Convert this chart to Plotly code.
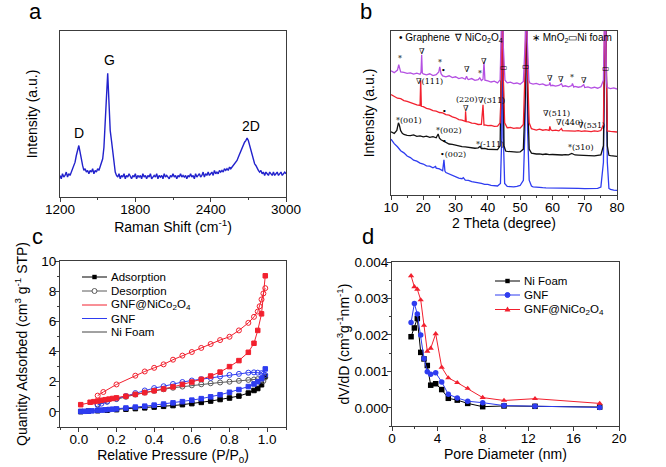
import plotly.graph_objects as go

W, H = 666, 467

# ---------------- panel a : Raman spectrum ----------------
raman_shift = list(range(1200, 3001, 10))
raman_int = [
    0.13, 0.11, 0.14, 0.12, 0.13, 0.15, 0.12, 0.14, 0.13, 0.15,
    0.16, 0.18, 0.21, 0.25, 0.29, 0.31, 0.27, 0.22, 0.19, 0.16,
    0.17, 0.15, 0.16, 0.14, 0.16, 0.15, 0.17, 0.14, 0.16, 0.15,
    0.17, 0.16, 0.18, 0.20, 0.23, 0.30, 0.42, 0.60, 0.745, 0.56,
    0.40, 0.34, 0.27, 0.19, 0.15, 0.13, 0.12, 0.14, 0.11, 0.13,
    0.12, 0.14, 0.11, 0.13, 0.12, 0.14, 0.12, 0.11, 0.13, 0.12,
    0.14, 0.11, 0.13, 0.12, 0.13, 0.11, 0.14, 0.12, 0.13, 0.11,
    0.13, 0.12, 0.14, 0.11, 0.12, 0.13, 0.12, 0.14, 0.11, 0.13,
    0.12, 0.13, 0.11, 0.14, 0.12, 0.13, 0.12, 0.11, 0.13, 0.12,
    0.14, 0.12, 0.13, 0.11, 0.13, 0.12, 0.14, 0.12, 0.13, 0.12,
    0.13, 0.11, 0.13, 0.12, 0.14, 0.12, 0.13, 0.11, 0.14, 0.12,
    0.13, 0.14, 0.12, 0.13, 0.15, 0.12, 0.14, 0.13, 0.15, 0.13,
    0.14, 0.15, 0.13, 0.16, 0.14, 0.15, 0.14, 0.16, 0.15, 0.16,
    0.15, 0.17, 0.16, 0.17, 0.16, 0.18, 0.17, 0.18, 0.19, 0.20,
    0.21, 0.22, 0.24, 0.26, 0.27, 0.29, 0.31, 0.33, 0.34, 0.355,
    0.34, 0.31, 0.28, 0.25, 0.22, 0.20, 0.19, 0.17, 0.16, 0.15,
    0.16, 0.14, 0.15, 0.13, 0.15, 0.14, 0.13, 0.15, 0.14, 0.13,
    0.15, 0.13, 0.14, 0.15, 0.13, 0.14, 0.15, 0.13, 0.14, 0.15,
    0.14,
]
raman_labels = ["D", "G", "2D"]
raman_label_x = [1355, 1598, 2725]
raman_label_y = [0.385, 0.825, 0.425]

# ---------------- panel b : XRD patterns ----------------
xrd_violet_x = [10, 11, 12, 12.4, 12.8, 13, 14, 15, 16, 17,
                18, 19, 19.3, 19.5, 19.7, 20, 21, 22, 23, 24,
                24.8, 25.1, 25.5, 26, 27, 28, 29, 30, 31, 32,
                33, 33.4, 33.7, 34, 35, 36, 37, 37.5, 38, 38.5,
                38.8, 39.1, 40, 41, 42, 43, 43.8, 44.3, 44.5, 44.8,
                45.3, 46, 47, 48, 49, 50, 51, 51.6, 51.9, 52.2,
                52.7, 53, 54, 55, 56, 57, 58, 59, 59.2, 59.5,
                60, 61, 62, 62.8, 63.2, 64, 65, 66, 66.2, 66.6,
                67, 68, 69, 69.7, 70, 71, 72, 73, 74, 75,
                75.8, 76.3, 76.7, 77, 78, 79, 80]
xrd_violet_y = [0.758, 0.746, 0.762, 0.795, 0.765, 0.750, 0.748, 0.742, 0.745, 0.737,
                0.743, 0.736, 0.748, 0.855, 0.744, 0.738, 0.733, 0.739, 0.728, 0.734,
                0.750, 0.782, 0.740, 0.726, 0.720, 0.727, 0.716, 0.721, 0.710, 0.716,
                0.706, 0.724, 0.708, 0.704, 0.710, 0.699, 0.703, 0.714, 0.698, 0.706,
                0.808, 0.700, 0.696, 0.689, 0.694, 0.684, 0.702, 0.900, 1.300, 0.900,
                0.700, 0.684, 0.688, 0.679, 0.683, 0.676, 0.692, 0.950, 1.300, 0.950,
                0.700, 0.683, 0.676, 0.680, 0.673, 0.677, 0.668, 0.672, 0.686, 0.666,
                0.669, 0.664, 0.668, 0.679, 0.662, 0.666, 0.660, 0.667, 0.680, 0.658,
                0.662, 0.657, 0.661, 0.673, 0.655, 0.659, 0.652, 0.657, 0.651, 0.660,
                0.700, 1.300, 0.700, 0.655, 0.649, 0.653, 0.646]

xrd_red_x = [10, 11, 12, 13, 14, 15, 16, 17, 18, 19,
             19.2, 19.4, 20, 21, 22, 23, 24, 25, 26, 27,
             28, 29, 30, 31, 32, 33, 33.1, 33.3, 34, 35,
             36, 37, 38, 38.5, 38.8, 39, 40, 41, 42, 43,
             43.8, 44.2, 44.5, 44.8, 45.2, 46, 47, 48, 49, 50,
             51, 51.5, 51.9, 52.3, 52.8, 53.5, 54, 55, 56, 57,
             58, 59, 59.2, 59.5, 60, 61, 62, 62.8, 63.1, 64,
             65, 66, 67, 68, 69, 70, 71, 72, 73, 74,
             75, 75.8, 76.3, 76.8, 77, 78, 79, 80]
xrd_red_y = [0.612, 0.603, 0.590, 0.587, 0.576, 0.571, 0.563, 0.559, 0.550, 0.546,
             0.700, 0.541, 0.539, 0.528, 0.524, 0.514, 0.511, 0.503, 0.501, 0.490,
             0.487, 0.476, 0.471, 0.460, 0.457, 0.449, 0.510, 0.447, 0.446, 0.438,
             0.437, 0.430, 0.431, 0.550, 0.427, 0.428, 0.423, 0.424, 0.418, 0.420,
             0.440, 0.700, 1.300, 0.700, 0.440, 0.410, 0.412, 0.406, 0.409, 0.408,
             0.430, 0.750, 1.300, 0.750, 0.440, 0.404, 0.401, 0.396, 0.401, 0.395,
             0.399, 0.394, 0.418, 0.397, 0.393, 0.396, 0.391, 0.405, 0.393, 0.392,
             0.390, 0.393, 0.389, 0.392, 0.388, 0.391, 0.390, 0.387, 0.391, 0.388,
             0.393, 0.430, 1.300, 0.430, 0.391, 0.388, 0.387, 0.384]

xrd_black_x = [10, 11, 11.8, 12.3, 12.6, 13, 13.5, 14, 15, 16,
               17, 18, 19, 20, 21, 22, 23, 24, 24.6, 25,
               25.5, 26, 26.5, 27, 28, 29, 30, 31, 32, 33,
               34, 35, 36, 37, 37.6, 38, 39, 40, 41, 42,
               43, 43.8, 44.5, 45, 45.5, 46, 47, 48, 49, 50,
               51, 51.6, 52, 52.3, 52.8, 53.5, 54, 55, 56, 57,
               58, 59, 60, 61, 62, 63, 64, 65, 66, 66.5,
               67, 68, 69, 70, 71, 72, 73, 74, 75, 75.8,
               76.4, 77, 77.5, 78, 79, 80]
xrd_black_y = [0.385, 0.376, 0.394, 0.440, 0.425, 0.392, 0.376, 0.369, 0.364, 0.362,
               0.366, 0.358, 0.360, 0.354, 0.359, 0.352, 0.356, 0.349, 0.372, 0.346,
               0.337, 0.332, 0.324, 0.319, 0.311, 0.309, 0.303, 0.301, 0.295, 0.293,
               0.289, 0.289, 0.285, 0.288, 0.296, 0.283, 0.284, 0.279, 0.279, 0.275,
               0.277, 0.300, 1.300, 0.300, 0.268, 0.266, 0.263, 0.264, 0.261, 0.263,
               0.280, 0.600, 1.300, 0.600, 0.280, 0.255, 0.252, 0.250, 0.251, 0.247,
               0.250, 0.246, 0.247, 0.245, 0.247, 0.244, 0.246, 0.245, 0.253, 0.250,
               0.244, 0.243, 0.242, 0.244, 0.240, 0.243, 0.239, 0.242, 0.245, 0.300,
               1.300, 0.300, 0.242, 0.240, 0.238, 0.236]

xrd_blue_x = [10, 11, 12, 13, 14, 15, 16, 17, 18, 19,
              20, 21, 22, 23, 23.8, 24, 25, 26, 26.4, 26.7,
              27, 28, 29, 30, 31, 32, 32.4, 33, 34, 35,
              36, 37, 38, 39, 40, 41, 42, 43, 43.9, 44.3,
              44.5, 44.8, 45.2, 46, 47, 48, 49, 50, 51, 51.5,
              51.9, 52.3, 52.8, 53.5, 54, 55, 56, 57, 58, 59,
              60, 62, 64, 66, 68, 70, 72, 74, 75, 75.8,
              76.4, 77, 77.5, 78, 79, 80]
xrd_blue_y = [0.340, 0.313, 0.294, 0.270, 0.257, 0.238, 0.228, 0.212, 0.206, 0.194,
              0.189, 0.178, 0.176, 0.166, 0.174, 0.164, 0.159, 0.148, 0.215, 0.146,
              0.137, 0.129, 0.117, 0.111, 0.103, 0.099, 0.106, 0.091, 0.089, 0.081,
              0.079, 0.073, 0.071, 0.065, 0.065, 0.059, 0.059, 0.055, 0.070, 0.350,
              1.300, 0.350, 0.070, 0.052, 0.051, 0.049, 0.053, 0.058, 0.090, 0.400,
              1.300, 0.400, 0.090, 0.055, 0.050, 0.047, 0.046, 0.045, 0.044, 0.044,
              0.043, 0.042, 0.041, 0.040, 0.040, 0.039, 0.038, 0.040, 0.048, 0.200,
              1.300, 0.200, 0.040, 0.034, 0.030, 0.028]

# peak markers / labels in panel b: (text, 2theta, height)
xrd_marks = [
    ("*", 12.8, 0.833), ("∇", 19.5, 0.872), ("*", 25.1, 0.809), ("•", 26.4, 0.762),
    ("∇", 33.4, 0.766), ("*", 37.5, 0.738), ("∇", 38.8, 0.817), ("▭", 44.9, 0.776),
    ("▭", 51.9, 0.782), ("∇", 59.1, 0.711), ("∇", 62.7, 0.707), ("*", 66.0, 0.715),
    ("∇", 69.7, 0.701), ("▭", 76.6, 0.772),
    ("∇(111)", 21.9, 0.695), ("•", 26.5, 0.508), ("(220)", 33.4, 0.583), ("∇", 33.2, 0.528),
    ("∇(311)", 41.0, 0.579), ("∇(511)", 61.3, 0.494), ("∇(440)", 65.4, 0.445),
    ("∇(531)", 72.1, 0.421),
    ("*(001)", 15.6, 0.457), ("*(002)", 28.1, 0.392), ("•", 26.5, 0.325),
    ("*(-111)", 40.6, 0.311), ("*(310)", 68.8, 0.291),
    ("•(002)", 29.2, 0.248),
]
xrd_key = [("• Graphene", 12.0), ("∇ NiCo<sub>2</sub>O<sub>4</sub>", 28.9),
           ("∗ MnO<sub>2</sub>▭Ni foam", 52.9)]

# ---------------- panel c : N2 isotherms ----------------
p_red_ads = [0.01, 0.06, 0.08, 0.10, 0.12, 0.14, 0.16, 0.18, 0.20, 0.25, 0.30, 0.35, 0.40,
             0.45, 0.50, 0.55, 0.60, 0.65, 0.70, 0.75, 0.80, 0.85, 0.90, 0.93, 0.95, 0.97, 0.99]
q_red_ads = [0.48, 0.64, 0.68, 0.72, 0.77, 0.81, 0.85, 0.89, 0.93, 1.04, 1.16, 1.28, 1.40,
             1.52, 1.66, 1.82, 1.98, 2.16, 2.38, 2.64, 3.00, 3.40, 3.95, 4.55, 5.40, 6.50, 9.02]
p_red_des = [0.10, 0.13, 0.20, 0.30, 0.35, 0.40, 0.45, 0.50, 0.55, 0.60, 0.65, 0.70, 0.75,
             0.80, 0.85, 0.90, 0.93, 0.95, 0.96, 0.97, 0.98, 0.99]
q_red_des = [1.08, 1.32, 1.82, 2.40, 2.68, 2.92, 3.15, 3.46, 3.73, 3.97, 4.24, 4.50, 4.76,
             4.98, 5.40, 5.90, 6.30, 6.65, 7.00, 7.45, 7.85, 8.20]
p_blue_ads = [0.01, 0.03, 0.05, 0.07, 0.10, 0.12, 0.14, 0.16, 0.18, 0.20, 0.25, 0.30, 0.35,
              0.40, 0.45, 0.50, 0.55, 0.60, 0.65, 0.70, 0.75, 0.80, 0.85, 0.90, 0.93, 0.95,
              0.97, 0.99]
q_blue_ads = [0.03, 0.04, 0.05, 0.07, 0.10, 0.12, 0.14, 0.16, 0.18, 0.20, 0.26, 0.32, 0.38,
              0.45, 0.52, 0.60, 0.68, 0.78, 0.88, 1.00, 1.14, 1.30, 1.48, 1.68, 1.85, 2.00,
              2.20, 2.85]
p_blue_des = [0.10, 0.12, 0.15, 0.20, 0.25, 0.30, 0.35, 0.40, 0.45, 0.50, 0.55, 0.60, 0.65,
              0.70, 0.75, 0.80, 0.85, 0.90, 0.93, 0.95, 0.97, 0.98, 0.99]
q_blue_des = [0.45, 0.55, 0.68, 0.88, 1.05, 1.25, 1.42, 1.58, 1.70, 1.85, 1.98, 2.08, 2.17,
              2.25, 2.35, 2.45, 2.52, 2.60, 2.62, 2.60, 2.57, 2.52, 2.45]
p_ni_ads = [0.01, 0.05, 0.10, 0.15, 0.20, 0.25, 0.30, 0.35, 0.40, 0.45, 0.50, 0.55, 0.60,
            0.65, 0.70, 0.75, 0.80, 0.85, 0.90, 0.93, 0.95, 0.97, 0.99]
q_ni_ads = [0.02, 0.05, 0.08, 0.11, 0.15, 0.18, 0.22, 0.27, 0.32, 0.37, 0.42, 0.48, 0.55,
            0.63, 0.72, 0.82, 0.92, 1.05, 1.25, 1.42, 1.55, 1.80, 2.35]
p_ni_des = [0.10, 0.15, 0.20, 0.25, 0.30, 0.35, 0.40, 0.45, 0.50, 0.55, 0.60, 0.65, 0.70,
            0.75, 0.80, 0.85, 0.90, 0.93, 0.95, 0.97, 0.98, 0.99]
q_ni_des = [0.50, 0.68, 0.85, 1.00, 1.15, 1.28, 1.40, 1.50, 1.60, 1.68, 1.76, 1.83, 1.90,
            1.95, 2.00, 2.06, 2.12, 2.15, 2.17, 2.10, 2.05, 2.30]

# ---------------- panel d : pore size distribution ----------------
pore_d = [1.68, 1.97, 2.23, 2.53, 2.82, 3.11, 3.41, 3.85, 4.38, 4.96, 5.75, 6.67, 7.99,
          9.87, 12.6, 18.3]
dvdd_ni = [0.00195, 0.00219, 0.00245, 0.00152, 0.00134, 0.00116, 0.00062, 0.00066,
           0.00050, 0.00026, 0.00021, 0.00012, 0.00003, 0.00005, 0.00004, 0.00002]
dvdd_gnf = [0.00234, 0.00286, 0.00257, 0.00200, 0.00135, 0.00099, 0.00092, 0.00096,
            0.00071, 0.00037, 0.00027, 0.00018, 0.00014, 0.00006, 0.00004, 0.00001]
dvdd_gnf_nco = [0.00362, 0.00332, 0.00325, 0.00296, 0.00226, 0.00155, 0.00163, 0.00203,
                0.00111, 0.00082, 0.00069, 0.00053, 0.00028, 0.00020, 0.00025, 0.00012]

# ---------------- colours ----------------
C_RAMAN = "#2222CC"
C_VIOLET = "#B450E2"
C_RED = "#F2202E"
C_BLUE = "#2E3CF0"
C_BLACK = "#000000"
C_GRAY = "#5A5A5A"
AX = "#3C3C3C"
FONT = "Liberation Sans, Arial, sans-serif"


def px(xp):
    return xp / W


def py(yp):
    return 1 - yp / H


fig = go.Figure()

# a
fig.add_trace(go.Scatter(x=raman_shift, y=raman_int, mode="lines",
                         line=dict(color=C_RAMAN, width=1.4), xaxis="x", yaxis="y"))
# b
for xs, ys, c in [(xrd_blue_x, xrd_blue_y, C_BLUE), (xrd_black_x, xrd_black_y, "#111111"),
                  (xrd_red_x, xrd_red_y, C_RED), (xrd_violet_x, xrd_violet_y, C_VIOLET)]:
    fig.add_trace(go.Scatter(x=xs, y=ys, mode="lines", line=dict(color=c, width=1.3),
                             xaxis="x2", yaxis="y2"))
# c
iso = [
    (p_ni_ads, q_ni_ads, C_BLACK, "square", 4.5),
    (p_ni_des, q_ni_des, C_GRAY, "circle-open", 5),
    (p_blue_ads, q_blue_ads, C_BLUE, "square", 4.5),
    (p_blue_des, q_blue_des, C_BLUE, "circle-open", 5),
    (p_red_ads, q_red_ads, C_RED, "square", 4.5),
    (p_red_des, q_red_des, C_RED, "circle-open", 5),
]
for xs, ys, c, sym, sz in iso:
    fig.add_trace(go.Scatter(x=xs, y=ys, mode="lines+markers",
                             line=dict(color=c, width=1),
                             marker=dict(symbol=sym, size=sz, color=c,
                                         line=dict(color=c, width=1)),
                             xaxis="x3", yaxis="y3"))
# d
for ys, c, sym in [(dvdd_ni, C_BLACK, "square"), (dvdd_gnf, C_BLUE, "circle"),
                   (dvdd_gnf_nco, C_RED, "triangle-up")]:
    fig.add_trace(go.Scatter(x=pore_d, y=ys, mode="lines+markers",
                             line=dict(color=c, width=1),
                             marker=dict(symbol=sym, size=5.5, color=c),
                             xaxis="x4", yaxis="y4"))

tickfont = dict(family=FONT, size=13.5, color="black")
titlefont = dict(family=FONT, size=14, color="black")


def axis(domain, rng, anchor, title, standoff, ticks=True, **kw):
    d = dict(domain=domain, range=rng, anchor=anchor, showline=True, linecolor=AX,
             linewidth=1, mirror=True, showgrid=False, zeroline=False, automargin=False,
             tickfont=tickfont,
             title=dict(text=title, font=titlefont, standoff=standoff))
    if ticks:
        d.update(ticks="outside", ticklen=4, tickwidth=1, tickcolor=AX,
                 ticklabelstandoff=-4)
    else:
        d.update(ticks="", showticklabels=False)
    d.update(kw)
    return d


minor = lambda dt: dict(ticks="outside", ticklen=2, tickwidth=1, tickcolor=AX, dtick=dt)

dom_a_x = [px(60), px(286)]
dom_a_y = [py(197), py(31)]
dom_b_x = [px(391), px(617)]
dom_b_y = [py(195), py(31)]
dom_c_x = [px(60), px(286)]
dom_c_y = [py(427), py(261)]
dom_d_x = [px(392), px(619)]
dom_d_y = [py(426), py(262)]

fig.update_layout(
    width=W, height=H, margin=dict(l=0, r=0, t=0, b=0),
    paper_bgcolor="white", plot_bgcolor="white", showlegend=False,
    font=dict(family=FONT, color="black"),
    xaxis=axis(dom_a_x, [1200, 3000], "y", "Raman Shift (cm<sup>-1</sup>)", 3,
               tick0=1200, dtick=600, minor=minor(300)),
    yaxis=axis(dom_a_y, [0, 1], "x", "Intensity (a.u.)", 18, ticks=False),
    xaxis2=axis(dom_b_x, [10, 80], "y2", "2 Theta (degree)", 3,
                tick0=10, dtick=10, minor=minor(5)),
    yaxis2=axis(dom_b_y, [0, 1], "x2", "Intensity (a.u.)", 12, ticks=False),
    xaxis3=axis(dom_c_x, [-0.1, 1.1], "y3", "Relative Pressure (P/P<sub>0</sub>)", 3,
                tick0=0, dtick=0.2, tickformat=".1f", minor=minor(0.1)),
    yaxis3=axis(dom_c_y, [-1, 10], "x3",
                "Quantity Adsorbed (cm<sup>3</sup> g<sup>-1</sup> STP)", 10,
                tick0=0, dtick=2, minor=minor(1)),
    xaxis4=axis(dom_d_x, [0, 20], "y4", "Pore Diameter (nm)", 3,
                tick0=0, dtick=4, minor=minor(2)),
    yaxis4=axis(dom_d_y, [-0.0005, 0.004], "x4",
                "dV/dD (cm<sup>3</sup>g<sup>-1</sup>nm<sup>-1</sup>)", 1,
                tick0=0, dtick=0.001, tickformat=".3f", minor=minor(0.0005)),
)

ann = []
shapes = []

# panel letters
for letter, xp, yp in [("a", 35, 12), ("b", 366, 12), ("c", 37, 237), ("d", 368, 237)]:
    ann.append(dict(text=letter, x=px(xp), y=py(yp), xref="paper", yref="paper",
                    showarrow=False, xanchor="center", yanchor="middle",
                    font=dict(family=FONT, size=22, color="black")))

# Raman peak labels
for t, xv, yv in zip(raman_labels, raman_label_x, raman_label_y):
    ann.append(dict(text=t, x=xv, y=yv, xref="x", yref="y", showarrow=False,
                    font=dict(family=FONT, size=14, color="black")))

# XRD marks
for t, xv, yv in xrd_marks:
    ann.append(dict(text=t, x=xv, y=yv, xref="x2", yref="y2", showarrow=False,
                    font=dict(family="DejaVu Serif, Liberation Serif, serif", size=8,
                              color="black")))
for t, xv in xrd_key:
    ann.append(dict(text=t, x=xv, y=0.958, xref="x2", yref="y2", showarrow=False,
                    xanchor="left", yanchor="middle",
                    font=dict(family=FONT, size=10, color="black")))


def legend_entry(x0, x1, yp, lcolor, label, sym=None, mcolor=None, open_=False):
    shapes.append(dict(type="line", xref="paper", yref="paper", x0=px(x0), x1=px(x1),
                       y0=py(yp), y1=py(yp), line=dict(color=lcolor, width=1)))
    xm = px((x0 + x1) / 2)
    if sym == "square":
        shapes.append(dict(type="rect", xref="paper", yref="paper", xsizemode="pixel",
                           ysizemode="pixel", xanchor=xm, yanchor=py(yp), x0=-2.2, x1=2.2,
                           y0=-2.2, y1=2.2, fillcolor=mcolor, line=dict(width=0)))
    elif sym == "circle":
        shapes.append(dict(type="circle", xref="paper", yref="paper", xsizemode="pixel",
                           ysizemode="pixel", xanchor=xm, yanchor=py(yp), x0=-2.5, x1=2.5,
                           y0=-2.5, y1=2.5,
                           fillcolor="white" if open_ else mcolor,
                           line=dict(color=mcolor, width=1)))
    elif sym == "triangle":
        shapes.append(dict(type="path", xref="paper", yref="paper", xsizemode="pixel",
                           ysizemode="pixel", xanchor=xm, yanchor=py(yp),
                           path="M -3 -2 L 3 -2 L 0 3 Z", fillcolor=mcolor,
                           line=dict(width=0)))
    ann.append(dict(text=label, x=px(x1 + 1.5), y=py(yp), xref="paper", yref="paper",
                    showarrow=False, xanchor="left", yanchor="middle",
                    font=dict(family=FONT, size=11.5, color="black")))


# legend c
legend_entry(82, 107, 277, C_BLACK, "Adsorption", "square", C_BLACK)
legend_entry(82, 107, 291, C_GRAY, "Desorption", "circle", C_GRAY, open_=True)
legend_entry(82, 107, 305, C_RED, "GNF@NiCo<sub>2</sub>O<sub>4</sub>")
legend_entry(82, 107, 318.5, C_BLUE, "GNF")
legend_entry(82, 107, 332, "#444444", "Ni Foam")
# legend d
legend_entry(495, 520, 281, C_BLACK, "Ni Foam", "square", C_BLACK)
legend_entry(495, 520, 295, C_BLUE, "GNF", "circle", C_BLUE)
legend_entry(495, 520, 309.5, C_RED, "GNF@NiCo<sub>2</sub>O<sub>4</sub>", "triangle", C_RED)

fig.update_layout(annotations=ann, shapes=shapes)
fig.write_html("out.html", config={"displayModeBar": False},
               post_script="document.body.style.margin='0px';")
